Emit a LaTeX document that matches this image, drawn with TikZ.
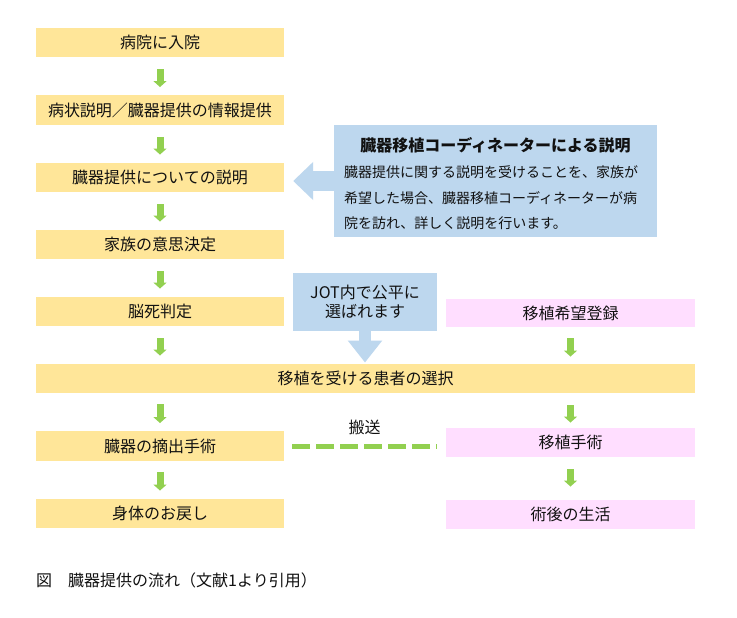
\documentclass[tikz,border=0pt]{standalone}
\usepackage{fontspec}
\setmainfont{Noto Sans CJK JP}
\usetikzlibrary{arrows.meta}
\definecolor{yfill}{HTML}{FFE699}
\definecolor{pfill}{HTML}{FFDEFF}
\definecolor{bfill}{HTML}{BDD7EE}
\definecolor{gfill}{HTML}{92D050}
\definecolor{txt}{HTML}{111111}
\tikzset{
  ybox/.style={fill=yfill, draw=none, minimum width=248pt, minimum height=29.5pt, inner sep=0pt, text=txt, font=\fontsize{16pt}{20pt}\selectfont},
  pbox/.style={ybox, fill=pfill, minimum width=249pt},
  garrow/.style={draw=gfill, line width=7pt, -{Triangle[width=13pt,length=6pt]}},
  gdash/.style={draw=gfill, line width=5pt, dash pattern=on 18pt off 6pt},
  bleft/.style={draw=bfill, line width=20pt, -{Triangle[width=37pt,length=20pt]}},
  bdown/.style={draw=bfill, line width=12pt, -{Triangle[width=33pt,length=22pt]}},
  btext/.style={anchor=base west, inner sep=0pt, text=txt, font=\fontsize{14pt}{18pt}\selectfont},
}
\begin{document}
\begin{tikzpicture}[x=1pt,y=-1pt]
\useasboundingbox[fill=white] (0,0) rectangle (737,618);
% left column
\node[ybox] (n1) at (160,42.5) {病院に入院};
\node[ybox] (n2) at (160,110) {病状説明／臓器提供の情報提供};
\node[ybox] (n3) at (160,177.5) {臓器提供についての説明};
\node[ybox] (n4) at (160,244.5) {家族の意思決定};
\node[ybox] (n5) at (160,311.5) {脳死判定};
\node[ybox, minimum width=659pt] (bar) at (365.5,378.5) {移植を受ける患者の選択};
\node[ybox] (n6) at (160,446) {臓器の摘出手術};
\node[ybox] (n7) at (160,513.5) {身体のお戻し};
% right column
\node[pbox, minimum height=28pt] (r1) at (570.5,313) {移植希望登録};
\node[pbox] (r2) at (570.5,442.5) {移植手術};
\node[pbox] (r3) at (570.5,514.5) {術後の生活};
% blue boxes
\node[fill=bfill, minimum width=323pt, minimum height=112pt, inner sep=0pt] (cb) at (495.5,181) {};
\node[text=txt, font=\bfseries\fontsize{16pt}{20pt}\selectfont, inner sep=0pt] (cbh) at (495.5,145) {臓器移植コーディネーターによる説明};
\node[btext] (cb1) at (344,177.5) {臓器提供に関する説明を受けることを、家族が};
\node[btext] (cb2) at (344,203.5) {希望した場合、臓器移植コーディネーターが病};
\node[btext] (cb3) at (344,228.5) {院を訪れ、詳しく説明を行います。};
\node[fill=bfill, minimum width=144pt, minimum height=58pt, inner sep=0pt, align=center, text=txt, font=\fontsize{16pt}{19.5pt}\selectfont] (jot) at (365,302) {JOT内で公平に\\選ばれます};
% green arrows
\draw[garrow] ([yshift=-12pt]n1.south) -- ([yshift=8pt]n2.north);
\draw[garrow] ([yshift=-12pt]n2.south) -- ([yshift=8pt]n3.north);
\draw[garrow] ([yshift=-12pt]n3.south) -- ([yshift=8pt]n4.north);
\draw[garrow] ([yshift=-12pt]n4.south) -- ([yshift=8pt]n5.north);
\draw[garrow] ([yshift=-12pt]n5.south) -- ([yshift=8pt]n5.south |- bar.north);
\draw[garrow] ([yshift=-11pt]bar.south -| n6.north) -- ([yshift=8pt]n6.north);
\draw[garrow] ([yshift=-11pt]n6.south) -- ([yshift=8pt]n7.north);
\draw[garrow] ([yshift=-11pt]r1.south) -- ([yshift=7pt]r1.south |- bar.north);
\draw[garrow] ([yshift=-12pt]bar.south -| r2.north) -- ([yshift=5pt]r2.north);
\draw[garrow] ([yshift=-12pt]r2.south) -- ([yshift=13pt]r3.north);
% blue arrows
\draw[bleft] (cb.west) -- ([xshift=9pt]n3.east |- cb.west);
\draw[bdown] (jot.south) -- ([yshift=1pt]jot.south |- bar.north);
% transport
\draw[gdash] ([xshift=8pt]n6.east) -- ([xshift=-9pt]n6.east -| r2.west) node[midway, yshift=19pt, text=txt, font=\fontsize{16pt}{20pt}\selectfont] (trans) {搬送};
% caption
\node[anchor=west, inner sep=0pt, text=txt, font=\fontsize{16pt}{20pt}\selectfont] (cap) at (36,580) {図　臓器提供の流れ（文献1より引用）};
\end{tikzpicture}
\end{document}
